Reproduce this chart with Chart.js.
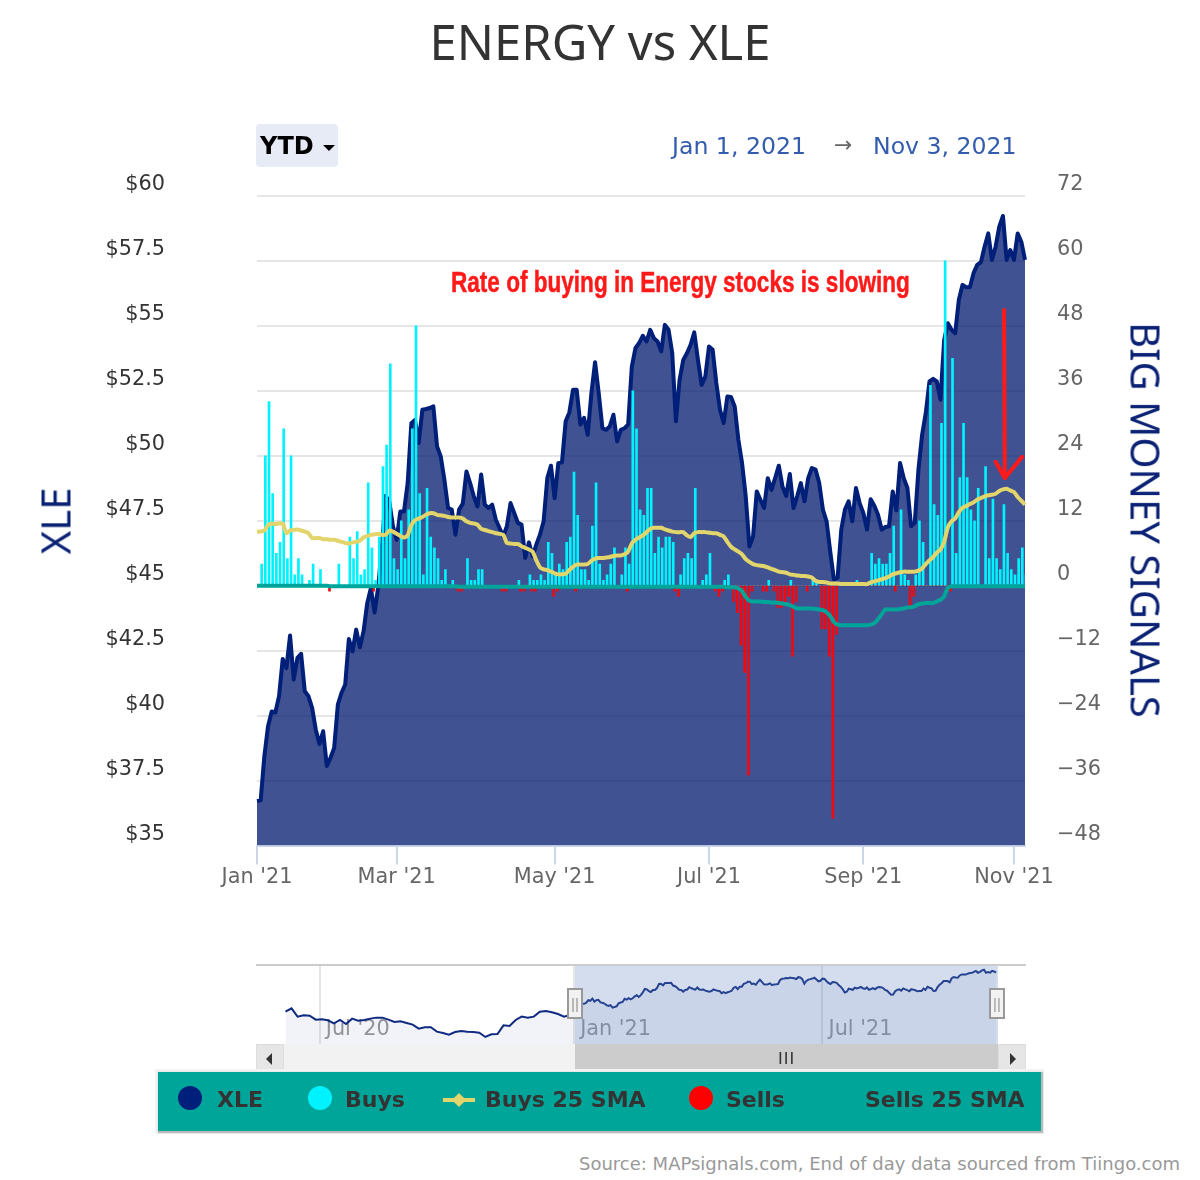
<!DOCTYPE html>
<html><head><meta charset="utf-8">
<script src="https://cdn.jsdelivr.net/npm/chart.js@4/dist/chart.umd.min.js"></script>
<style>
html,body{margin:0;padding:0;background:#fff;width:1200px;height:1180px;overflow:hidden;font-family:"DejaVu Sans",sans-serif}
canvas{position:absolute;left:0;display:block}
.t{position:absolute;white-space:nowrap}
.dot{position:absolute;width:24px;height:24px;border-radius:50%}
.box{position:absolute;box-sizing:border-box}
.lg{font:700 22px 'DejaVu Sans';color:#333}
</style></head><body>
<canvas id="main" width="1200" height="950" style="top:0"></canvas>
<canvas id="nav" width="1200" height="100" style="top:950px"></canvas>

<div class="t" id="title" style="left:0;width:1200px;text-align:center;top:8px;font:400 49px 'Noto Sans',sans-serif;color:#333">ENERGY vs XLE</div>
<div class="box" style="left:256px;top:124px;width:82px;height:43px;background:#e6ebf5;border-radius:4px"></div>
<div class="t" style="left:260px;top:132px;font:700 24px 'DejaVu Sans',sans-serif;color:#000">YTD</div>
<div class="box" style="left:323px;top:145px;width:0;height:0;border-left:6.5px solid transparent;border-right:6.5px solid transparent;border-top:6.5px solid #000"></div>
<div class="t" style="left:672px;top:132px;font:400 23.6px 'DejaVu Sans';color:#335cad">Jan 1, 2021</div>
<div class="t" style="left:834px;top:132px;font:400 22px 'DejaVu Sans';color:#666">→</div>
<div class="t" style="left:873px;top:132px;font:400 23.6px 'DejaVu Sans';color:#335cad">Nov 3, 2021</div>
<div class="t" style="left:451px;top:265px;font:700 30px 'Liberation Sans',sans-serif;color:#ff1a1a;-webkit-text-stroke:.5px #ff1a1a;transform:scaleX(.752);transform-origin:left center">Rate of buying in Energy stocks is slowing</div>
<div class="t" style="left:55px;top:521px;font:400 40px 'Noto Sans',sans-serif;color:#0a2174;transform:translate(-50%,-50%) rotate(-90deg)">XLE</div>
<div class="t" style="left:1146px;top:520px;font:400 40px 'Noto Sans',sans-serif;color:#0a2174;transform:translate(-50%,-50%) rotate(90deg)">BIG MONEY SIGNALS</div>

<!-- navigator furniture -->
<div class="box" style="left:256px;top:964px;width:770px;height:2px;background:#ccc"></div>
<div class="box" style="left:575px;top:966px;width:423px;height:78px;background:rgba(102,133,194,.28)"></div>
<div class="box" style="left:567px;top:988px;width:16px;height:31px;background:#f2f2f2;border:2px solid #999"></div>
<div class="box" style="left:989px;top:988px;width:16px;height:31px;background:#f2f2f2;border:2px solid #999"></div>
<div class="t" style="left:571px;top:995px;font:400 15px 'Liberation Sans';color:#999">||</div>
<div class="t" style="left:993px;top:995px;font:400 15px 'Liberation Sans';color:#999">||</div>
<div class="box" style="left:256px;top:1044px;width:770px;height:28px;background:#f2f2f2"></div>
<div class="box" style="left:256px;top:1044px;width:28px;height:28px;background:#e6e6e6;border:1px solid #ddd"></div>
<div class="box" style="left:998px;top:1044px;width:28px;height:28px;background:#e6e6e6;border:1px solid #ddd"></div>
<div class="box" style="left:575px;top:1044px;width:423px;height:30px;background:#ccc;border-bottom:2px solid #bbb"></div>
<div class="t" style="left:778px;top:1049px;font:400 17px 'Liberation Sans';color:#333;letter-spacing:1px">III</div>
<div class="box" style="left:266px;top:1053px;width:0;height:0;border-top:6px solid transparent;border-bottom:6px solid transparent;border-right:6px solid #333"></div>
<div class="box" style="left:1010px;top:1053px;width:0;height:0;border-top:6px solid transparent;border-bottom:6px solid transparent;border-left:6px solid #333"></div>

<!-- legend -->
<div class="box" style="left:158px;top:1072px;width:883px;height:59px;background:#00a59a;box-shadow:1px 1px 1px 1px #bbb,0 0 0 3px #f2f2f2"></div>
<div class="dot" style="left:178px;top:1086px;background:#001f7a"></div>
<div class="t lg" style="left:217px;top:1087px">XLE</div>
<div class="dot" style="left:308px;top:1086px;background:#00f2ff"></div>
<div class="t lg" style="left:345px;top:1087px">Buys</div>
<div class="box" style="left:443px;top:1098px;width:32px;height:4px;background:#e1d56b"></div>
<div class="box" style="left:454px;top:1095px;width:10px;height:10px;background:#e1d56b;transform:rotate(45deg)"></div>
<div class="t lg" style="left:485px;top:1087px">Buys 25 SMA</div>
<div class="dot" style="left:689px;top:1086px;background:#ff0000"></div>
<div class="t lg" style="left:726px;top:1087px">Sells</div>
<div class="t lg" style="left:865px;top:1087px">Sells 25 SMA</div>
<div class="t" style="right:20px;top:1153px;font:400 18px 'DejaVu Sans';color:#999">Source: MAPsignals.com, End of day data sourced from Tiingo.com</div>

<script>
const xTickIndex = [0, 38, 81, 123, 165, 206];
const xTickLabels = ["Jan '21", "Mar '21", "May '21", "Jul '21", "Sep '21", "Nov '21"];

const xle = [
36.71,36.74,38.44,39.59,40.16,40.12,40.75,42.18,41.83,43.08,
41.39,42.22,42.38,40.94,40.75,40.30,39.46,38.91,39.40,38.06,
38.38,38.76,40.42,40.88,41.19,42.95,42.47,43.31,42.63,43.25,
44.33,44.91,43.97,44.97,46.51,48.46,48.25,47.29,46.77,47.86,
47.86,48.95,51.25,51.38,50.49,51.77,51.80,51.84,51.90,50.36,
49.98,49.08,47.99,47.93,46.96,47.93,48.16,49.40,48.95,48.44,
48.05,49.28,48.12,47.99,48.12,47.54,47.22,46.90,47.29,48.18,
47.80,47.42,47.35,46.07,46.67,46.13,46.58,46.96,47.48,49.14,
49.62,48.37,49.72,49.75,51.33,51.67,52.54,52.54,51.20,51.46,
50.81,52.41,53.60,52.41,51.06,51.00,51.13,51.58,50.55,51.00,
51.06,51.20,53.43,54.15,54.34,54.62,54.40,54.85,54.53,54.40,
54.02,55.04,54.85,53.95,51.33,52.92,53.69,53.95,54.27,54.75,
53.69,52.73,53.05,54.21,54.08,52.80,51.77,51.26,52.28,52.26,
51.90,50.62,49.72,48.44,46.51,46.90,48.63,48.31,47.99,49.14,
48.69,49.14,49.62,48.82,48.46,49.30,47.99,48.44,48.95,48.25,
49.14,49.53,49.47,48.95,47.93,47.48,46.32,45.24,45.30,47.16,
47.93,48.25,47.48,48.76,48.18,47.80,47.16,48.33,48.08,47.73,
47.16,47.26,47.29,48.63,47.90,49.72,49.14,48.76,47.29,47.42,
49.47,50.81,51.65,52.86,52.96,52.86,52.16,54.46,55.10,54.85,
54.72,56.01,56.58,56.49,56.49,57.03,57.35,57.45,58.05,58.56,
57.54,58.05,58.82,59.23,57.54,57.92,57.54,58.56,58.24,57.54];

const buys = [
0,4,24,34,17,6,8,29,5,24,
2,5,2,0,1,4,0,3,0,0,
0,0,4,0,0,9,5,10,2,3,
19,7,1,9,22,26,41,5,3,12,
5,14,29,48,17,2,18,9,7,5,
1,3,0,1,0,0,0,5,1,1,
3,3,0,0,0,0,0,0,0,0,
0,1,0,0,2,1,1,2,1,8,
6,2,4,3,8,9,21,13,3,3,
1,11,19,4,1,2,4,7,0,2,
7,4,36,29,14,13,18,18,6,9,
7,9,9,8,0,2,5,6,5,18,
0,1,2,6,0,0,0,1,2,0,
0,0,0,0,0,0,0,0,0,1,
0,0,0,0,0,1,0,0,0,0,
0,1,1,0,0,0,0,0,0,0,
0,0,0,1,0,0,0,6,4,5,
4,4,6,11,0,14,2,1,0,2,
12,8,0,37,15,13,30,60,0,42,
6,20,30,20,14,12,18,0,22,5,
16,5,3,15,6,3,2,5,7,2];

const sells = [
0,0,0,0,0,0,0,0,0,0,
0,0,0,0,0,0,0,0,0,0,
-1,0,0,0,0,0,0,0,0,0,
0,0,-1,0,0,0,0,0,0,0,
0,0,0,0,0,0,0,0,0,0,
0,0,0,0,0,-1,-1,0,0,0,
0,0,0,0,0,0,0,-1,-1,0,
0,0,-1,-1,0,-1,-1,0,0,0,
0,-2,-1,0,0,0,0,-1,0,0,
0,0,0,0,0,0,0,0,0,0,
0,-1,0,0,0,0,0,0,0,0,
0,0,0,0,-1,-2,0,0,0,0,
0,0,0,0,0,-1,-2,-1,0,0,
-3,-5,-11,-16,-35,-1,0,0,-1,-1,
0,-1,-4,-4,-3,-2,-13,-3,0,0,
-1,0,0,0,-8,-8,-13,-43,-9,0,
0,0,0,0,0,0,0,0,0,0,
0,0,0,0,-1,0,0,0,-4,-2,
0,0,0,0,0,0,0,0,0,-1,
0,0,0,0,0,0,0,0,0,0,
0,0,0,0,0,0,0,0,0,0];

const buysSma = [
10.0,10.0,10.2,11.2,11.5,11.4,11.5,11.5,9.7,10.2,
10.3,10.4,10.2,10.0,9.7,8.8,8.8,8.8,8.6,8.6,
8.5,8.5,8.3,8.1,7.9,7.8,8.0,8.1,8.3,8.9,
9.2,9.4,9.5,9.6,9.4,9.4,10.2,10.0,9.6,9.2,
8.9,9.3,11.2,12.1,12.4,12.7,13.1,13.4,13.4,13.1,
13.0,12.9,12.7,12.6,12.6,12.6,12.4,11.9,11.6,11.5,
11.3,10.5,10.3,10.1,9.9,9.7,9.6,9.4,7.9,7.8,
7.7,7.7,7.3,7.0,6.7,6.3,4.7,3.4,3.0,2.9,
2.6,2.3,2.1,2.1,2.2,2.9,3.5,3.9,3.9,3.9,
4.0,4.6,5.0,5.1,5.1,5.2,5.3,5.5,5.6,5.6,
5.8,6.3,7.8,8.5,8.9,9.3,9.9,10.5,10.7,10.7,
10.7,10.4,10.2,10.0,9.9,9.9,9.9,9.3,9.0,9.7,
9.9,9.9,9.9,9.8,9.7,9.7,9.4,9.1,8.1,7.2,
6.7,6.3,5.8,4.9,4.4,4.0,3.8,3.7,3.6,3.4,
3.1,2.9,2.6,2.5,2.4,2.1,2.0,1.9,1.8,1.8,
1.7,1.5,0.9,0.7,0.7,0.6,0.4,0.4,0.4,0.3,
0.3,0.3,0.3,0.3,0.3,0.3,0.3,0.6,0.8,1.0,
1.2,1.4,1.7,2.1,2.3,2.5,2.6,2.6,2.6,2.6,
2.8,3.2,4.0,4.7,5.3,6.1,6.7,8.1,10.8,11.9,
12.4,13.6,14.4,14.7,15.1,15.4,15.9,16.2,16.5,16.7,
16.8,17.0,17.5,17.8,17.9,17.6,17.3,16.4,15.7,15.0];

const sellsSma = [
0,0,0,0,0,0,0,0,0,0,
0,0,0,0,0,0,0,0,0,0,
-0.1,-0.1,-0.1,-0.1,-0.1,-0.1,-0.1,-0.1,-0.1,-0.1,
-0.1,-0.1,-0.1,-0.1,-0.1,-0.1,-0.1,-0.1,-0.1,-0.1,
-0.1,-0.1,-0.1,-0.1,-0.1,-0.1,-0.1,-0.1,-0.1,-0.1,
-0.1,-0.1,-0.1,-0.1,-0.1,-0.2,-0.2,-0.2,-0.2,-0.2,
-0.2,-0.2,-0.2,-0.2,-0.2,-0.2,-0.2,-0.2,-0.2,-0.2,
-0.2,-0.2,-0.2,-0.2,-0.2,-0.2,-0.2,-0.2,-0.2,-0.2,
-0.2,-0.2,-0.2,-0.2,-0.2,-0.2,-0.2,-0.2,-0.2,-0.2,
-0.2,-0.2,-0.2,-0.2,-0.2,-0.2,-0.2,-0.2,-0.2,-0.2,
-0.2,-0.2,-0.2,-0.2,-0.2,-0.2,-0.2,-0.2,-0.2,-0.2,
-0.2,-0.2,-0.2,-0.2,-0.2,-0.2,-0.2,-0.2,-0.2,-0.2,
-0.2,-0.2,-0.2,-0.2,-0.2,-0.2,-0.2,-0.2,-0.3,-0.3,
-0.3,-0.5,-1.0,-2.1,-2.8,-2.9,-2.9,-2.9,-3.0,-3.0,
-3.1,-3.1,-3.2,-3.3,-3.4,-3.6,-3.9,-4.2,-4.2,-4.2,
-4.2,-4.2,-4.3,-4.4,-4.5,-4.9,-5.6,-6.7,-7.2,-7.3,
-7.3,-7.3,-7.3,-7.3,-7.3,-7.3,-7.3,-7.2,-6.9,-6.2,
-5.3,-4.4,-4.4,-4.4,-4.4,-4.3,-4.2,-4.0,-4.0,-3.8,
-3.4,-3.3,-3.2,-3.2,-3.2,-2.9,-2.6,-2.0,-0.4,-0.1,
-0.1,-0.1,-0.1,-0.1,-0.1,-0.1,-0.1,-0.1,-0.1,-0.1,
-0.1,-0.1,-0.1,-0.1,-0.1,-0.1,-0.1,-0.1,-0.1,-0.1];

/* navigator: every third trading day from Apr 2020 to Dec 2020 */
const navPre = [
35.77,37.63,32.97,33.71,33.53,31.29,31.48,30.92,29.24,31.10,
28.86,31.85,30.73,31.10,31.85,32.41,32.41,31.29,29.98,30.36,
29.42,28.49,26.25,27.00,27.00,24.57,23.83,22.89,24.39,24.95,
24.57,24.39,24.01,21.59,23.08,23.27,28.12,27.74,31.10,32.97,
32.41,32.97,35.77,36.14,35.39,34.46,32.97,33.90];
const navTickIndex = [-126, 0, 123];
const navTickLabels = ["Jul '20", "Jan '21", "Jul '21"];

/* red hand-drawn arrow, in chart coordinates [day index, Big Money value] */
const arrowShaft = [[203.3, 50.95], [203.5, 19.9]];
const arrowHead = [[201, 22.9], [203.5, 19.9], [208.2, 23.8]];

const labelFont = {family: "'DejaVu Sans'", size: 20.8};
const arrowPlugin = {
  id: 'arrow',
  afterDatasetsDraw(c) {
    const {ctx, scales: {x, y1}} = c;
    const P = p => [x.left + (x.right - x.left) * p[0] / (xle.length - 1), y1.getPixelForValue(p[1])];
    ctx.save();
    ctx.strokeStyle = '#ff1a1a'; ctx.lineWidth = 4; ctx.lineCap = 'round'; ctx.lineJoin = 'round';
    for (const path of [arrowShaft, arrowHead]) {
      ctx.beginPath();
      path.forEach((p, i) => { const q = P(p); i ? ctx.lineTo(q[0], q[1]) : ctx.moveTo(q[0], q[1]); });
      ctx.stroke();
    }
    ctx.restore();
  }
};

new Chart(document.getElementById('main'), {
  type: 'bar',
  plugins: [arrowPlugin],
  data: {
    labels: xle.map((_, i) => i),
    datasets: [
      {type:'line', label:'XLE', data:xle, yAxisID:'y', order:5, borderColor:'#001f78', backgroundColor:'rgba(0,24,108,.75)', borderWidth:4, fill:'start', pointRadius:0, tension:0, borderJoinStyle:'round', clip:false},
      {type:'bar', label:'Buys', data:buys, yAxisID:'y1', order:4, backgroundColor:'#00f2ff', barThickness:2},
      {type:'bar', label:'Sells', data:sells, yAxisID:'y1', order:3, backgroundColor:'#ee0a14', barThickness:2},
      {type:'line', label:'Buys 25 SMA', data:buysSma, yAxisID:'y1', order:2, borderColor:'#e1d56b', borderWidth:4, pointRadius:0, tension:.2, fill:false},
      {type:'line', label:'Sells 25 SMA', data:sellsSma, yAxisID:'y1', order:1, borderColor:'#00a59a', borderWidth:4, pointRadius:0, tension:.3, fill:false}
    ]
  },
  options: {
    responsive:false, animation:false, events:[],
    layout:{padding:{top:196, left:0, right:0, bottom:0}},
    plugins:{legend:{display:false}, tooltip:{enabled:false}, title:{display:false}},
    scales:{
      x:{
        type:'category', offset:false,
        afterBuildTicks:s=>{s.ticks = xTickIndex.map(v=>({value:v}));},
        afterFit:s=>{s.height = 54;},
        grid:{drawOnChartArea:false, color:'#ccd6eb', tickLength:19, offset:false, lineWidth:2},
        border:{color:'#ccd6eb', width:2},
        ticks:{autoSkip:false, maxRotation:0, minRotation:0, padding:1, color:'#666', font:labelFont,
          callback:v=>xTickLabels[xTickIndex.indexOf(v)]}
      },
      y:{
        position:'left', min:35, max:60,
        afterFit:s=>{s.width = 257;},
        grid:{color:'#e6e6e6', lineWidth:2, drawTicks:false},
        border:{display:false},
        ticks:{stepSize:2.5, padding:92, labelOffset:-11, color:'#333', font:labelFont, callback:v=>'$'+v}
      },
      y1:{
        position:'right', min:-48, max:72,
        afterFit:s=>{s.width = 175;},
        grid:{display:false, drawTicks:false},
        border:{display:false},
        ticks:{stepSize:12, padding:32, labelOffset:-11, color:'#666', font:labelFont, callback:v=>String(v).replace('-','\u2212')}
      }
    }
  }
});

const navData = navPre.map((v,i)=>({x:-143+3*i, y:v})).concat(xle.map((v,i)=>({x:i, y:v})));
new Chart(document.getElementById('nav'), {
  type:'line',
  data:{datasets:[{label:'XLE', data:navData, borderColor:'#0f2a80', backgroundColor:'rgba(0,24,108,.05)', borderWidth:2, fill:'start', pointRadius:0, tension:0}]},
  options:{
    responsive:false, animation:false, events:[],
    layout:{padding:{top:16, left:256, right:174, bottom:6}},
    plugins:{legend:{display:false}, tooltip:{enabled:false}},
    scales:{
      x:{
        type:'linear', min:-157.6, max:223.8,
        afterBuildTicks:s=>{s.ticks = navTickIndex.map(v=>({value:v}));},
        afterFit:s=>{s.height = 0;},
        grid:{color:'#e6e6e6', lineWidth:2, drawTicks:false},
        border:{display:false},
        ticks:{autoSkip:false, maxRotation:0, minRotation:0, align:'start', mirror:true, labelOffset:6, padding:2, color:'#999', font:{family:"'DejaVu Sans'", size:20.8},
          callback:v=>navTickLabels[navTickIndex.indexOf(v)]}
      },
      y:{display:false, min:17.66, max:61.3}
    }
  }
});
</script>
</body></html>
